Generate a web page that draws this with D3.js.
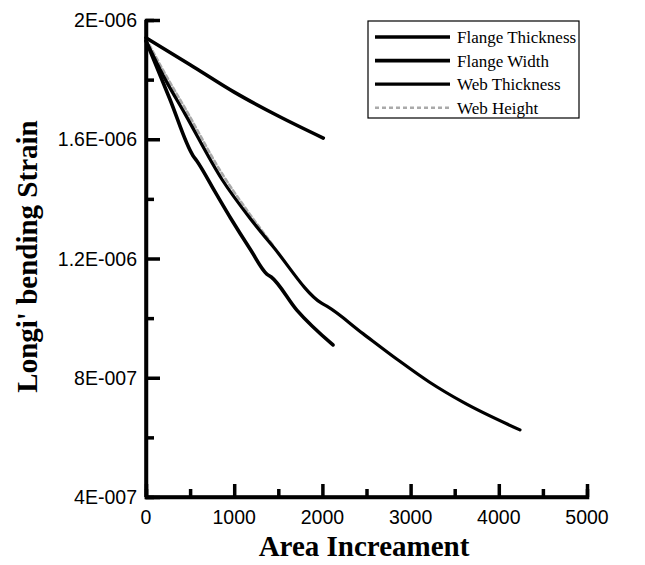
<!DOCTYPE html>
<html>
<head>
<meta charset="utf-8">
<script src="https://cdn.jsdelivr.net/npm/d3@7"></script>
<style>
  body { margin: 0; background: #fff; }
  svg { display: block; }
</style>
</head>
<body>
<div id="chart"></div>
<script>
// series (x = area increment, y = strain in 1e-6)
const flangeThickness = [
  [0, 1.93], [270, 1.735], [533, 1.545], [575, 1.528], [780, 1.425], [960, 1.335],
  [1180, 1.232], [1370, 1.148], [1420, 1.138], [1710, 1.027], [2120, 0.91]
]
const flangeWidth = [
  [0, 1.94], [500, 1.85], [1000, 1.758], [1500, 1.678], [2010, 1.604]
]
const webThickness = [
  [0, 1.93], [220, 1.80], [442, 1.685], [862, 1.465], [1179, 1.335], [1440, 1.24],
  [1990, 1.05], [2050, 1.040], [2460, 0.948], [2846, 0.862], [3220, 0.784],
  [3594, 0.718], [4240, 0.625]
]
const webHeight = [
  [0, 1.938], [220, 1.818], [442, 1.705], [862, 1.485], [1179, 1.348], [1440, 1.245]
]
const seriesNames = ['Flange Thickness', 'Flange Width', 'Web Thickness', 'Web Height']
const yTickValues = [0.4, 0.8, 1.2, 1.6, 2.0]
const yTickLabels = ['4E-007', '8E-007', '1.2E-006', '1.6E-006', '2E-006']
const xTickValues = [0, 1000, 2000, 3000, 4000, 5000]

const width = 645, height = 565
const margin = { top: 20, right: 58, bottom: 68, left: 146 }

const svg = d3.select('#chart').append('svg')
  .attr('width', width)
  .attr('height', height)

const x = d3.scaleLinear().domain([0, 5000]).range([margin.left, width - margin.right])
const y = d3.scaleLinear().domain([0.4, 2.0]).range([height - margin.bottom, margin.top])

// minor ticks first, then the major ones (all pointing inward)
svg.append('g')
  .attr('transform', `translate(0,${y(0.4)})`)
  .call(d3.axisTop(x).tickValues(d3.range(500, 5000, 1000)).tickSize(8).tickFormat(''))
svg.append('g')
  .attr('transform', `translate(${x(0)},0)`)
  .call(d3.axisRight(y).tickValues(d3.range(0.6, 2.0, 0.4)).tickSize(8).tickFormat(''))

const xAxis = svg.append('g')
  .attr('transform', `translate(0,${y(0.4)})`)
  .call(d3.axisTop(x).tickValues(xTickValues).tickSize(13).tickFormat(''))
const yAxis = svg.append('g')
  .attr('transform', `translate(${x(0)},0)`)
  .call(d3.axisRight(y).tickValues(yTickValues).tickSize(14).tickFormat(''))

svg.selectAll('.domain, .tick line')
  .attr('stroke', '#000')
  .attr('stroke-width', 3.5)
// plain axis lines without the outer end caps
xAxis.select('.domain').attr('d', `M${x(0)},0H${x(5000)}`)
yAxis.select('.domain').attr('d', `M0,${y(0.4)}V${y(2.0)}`)

// tick labels
svg.append('g')
  .selectAll('text')
  .data(xTickValues)
  .join('text')
  .attr('x', d => x(d))
  .attr('y', y(0.4) + 27)
  .attr('text-anchor', 'middle')
  .attr('font-family', 'Liberation Sans, Arial, sans-serif')
  .attr('font-size', 19.5)
  .text(d => d)

svg.append('g')
  .selectAll('text')
  .data(yTickValues)
  .join('text')
  .attr('x', x(0) - 9)
  .attr('y', d => y(d) + 7)
  .attr('text-anchor', 'end')
  .attr('font-family', 'Liberation Sans, Arial, sans-serif')
  .attr('font-size', 19.5)
  .text((d, i) => yTickLabels[i])

// axis titles
svg.append('text')
  .attr('x', 364)
  .attr('y', 556)
  .attr('text-anchor', 'middle')
  .attr('font-family', 'Liberation Serif, Times New Roman, serif')
  .attr('font-weight', 'bold')
  .attr('font-size', 29)
  .text('Area Increament')

svg.append('text')
  .attr('transform', `translate(37,${(y(0.4) + y(2.0)) / 2 - 2}) rotate(-90)`)
  .attr('text-anchor', 'middle')
  .attr('font-family', 'Liberation Serif, Times New Roman, serif')
  .attr('font-weight', 'bold')
  .attr('font-size', 29)
  .text("Longi' bending Strain")

// curves
const line = d3.line()
  .x(d => x(d[0]))
  .y(d => y(d[1]))
  .curve(d3.curveMonotoneX)

const styles = [
  { color: '#000', width: 3.6, dash: null },
  { color: '#000', width: 3.6, dash: null },
  { color: '#000', width: 3.2, dash: null },
  { color: '#aaa', width: 2.5, dash: '4,3' }
]
const allSeries = [flangeThickness, flangeWidth, webThickness, webHeight]

svg.append('g')
  .selectAll('path')
  .data([3, 0, 1, 2])
  .join('path')
  .attr('d', i => line(allSeries[i]))
  .attr('fill', 'none')
  .attr('stroke', i => styles[i].color)
  .attr('stroke-width', i => styles[i].width)
  .attr('stroke-dasharray', i => styles[i].dash)
  .attr('stroke-linecap', 'round')

// legend
const legend = svg.append('g').attr('transform', 'translate(368,21)')
legend.append('rect')
  .attr('width', 211)
  .attr('height', 97)
  .attr('fill', '#fff')
  .attr('stroke', '#000')
  .attr('stroke-width', 1.2)

const rows = legend.selectAll('g')
  .data(seriesNames)
  .join('g')
  .attr('transform', (d, i) => `translate(0,${16 + i * 23.6})`)
rows.append('line')
  .attr('x1', 7)
  .attr('x2', 82)
  .attr('stroke', (d, i) => styles[i].color)
  .attr('stroke-width', (d, i) => styles[i].width)
  .attr('stroke-dasharray', (d, i) => styles[i].dash)
rows.append('text')
  .attr('x', 89)
  .attr('y', 6)
  .attr('font-family', 'Liberation Serif, Times New Roman, serif')
  .attr('font-size', 17)
  .text(d => d)
</script>
</body>
</html>
